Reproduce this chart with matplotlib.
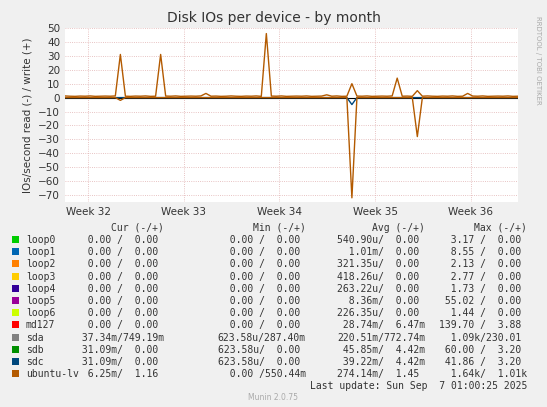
import matplotlib
matplotlib.use('Agg')
import matplotlib.pyplot as plt
import numpy as np

# ubuntu-lv write (+) values, sampled across the month
write = [1.2, 1.0, 0.9, 1.1, 1.0, 1.2, 0.9, 1.0, 1.1, 1.0, 1.2, 31, 1.0, 0.9, 1.1, 1.0, 1.2, 0.9, 1.0, 31,
         1.1, 1.0, 1.2, 0.9, 1.0, 1.1, 1.0, 1.2, 3.0, 1.0, 1.1, 0.9, 1.0, 1.2, 1.0, 0.9, 1.1, 1.0, 1.2, 0.9,
         46, 1.1, 1.0, 1.2, 0.9, 1.0, 1.1, 1.0, 1.2, 0.9, 1.0, 1.1, 2.0, 1.0, 1.2, 0.9, 1.0, 10,
         1.1, 1.0, 1.2, 0.9, 1.0, 1.1, 1.0, 1.2, 14, 1.0, 1.1, 0.9, 5,
         1.0, 1.2, 1.0, 0.9, 1.1, 1.0, 1.2, 0.9, 1.0, 3.0, 1.1, 1.0, 1.2, 0.9, 1.0, 1.1, 1.0, 1.2, 0.9, 1.0]
read_idx = [11, 57, 70]
read_val = [-2, -72, -28]
sdc_read_idx = [57]
sdc_read_val = [-5]

weeks = ['Week 32', 'Week 33', 'Week 34', 'Week 35', 'Week 36']

names = ['loop0', 'loop1', 'loop2', 'loop3', 'loop4', 'loop5', 'loop6', 'md127', 'sda', 'sdb', 'sdc', 'ubuntu-lv']
colors = ['#00cc00', '#0066b3', '#ff8000', '#ffcc00', '#330099', '#990099', '#ccff00', '#ff0000',
          '#808080', '#008f00', '#00487d', '#b35a00']
cur = [('0.00 ', '0.00 ')] * 8 + [('37.34m', '749.19m'), ('31.09m', '0.00 '), ('31.09m', '0.00 '), ('6.25m', '1.16 ')]
mins = [('0.00 ', '0.00 ')] * 8 + [('623.58u', '287.40m'), ('623.58u', '0.00 '), ('623.58u', '0.00 '), ('0.00 ', '550.44m')]
avgs = [('540.90u', '0.00 '), ('1.01m', '0.00 '), ('321.35u', '0.00 '), ('418.26u', '0.00 '), ('263.22u', '0.00 '),
        ('8.36m', '0.00 '), ('226.35u', '0.00 '), ('28.74m', '6.47m'), ('220.51m', '772.74m'), ('45.85m', '4.42m'),
        ('39.22m', '4.42m'), ('274.14m', '1.45 ')]
maxs = [('3.17 ', '0.00 '), ('8.55 ', '0.00 '), ('2.13 ', '0.00 '), ('2.77 ', '0.00 '), ('1.73 ', '0.00 '),
        ('55.02 ', '0.00 '), ('1.44 ', '0.00 '), ('139.70 ', '3.88 '), ('1.09k', '230.01 '), ('60.00 ', '3.20 '),
        ('41.86 ', '3.20 '), ('1.64k', '1.01k')]

W, H = 547, 407
fig = plt.figure(figsize=(W / 100, H / 100), dpi=100, facecolor='#f0f0f0')
ax = fig.add_axes([65 / W, 1 - 202 / H, 453 / W, 174 / H], facecolor='white')

x = np.arange(len(write))
read = np.zeros(len(write))
read[read_idx] = read_val
sdc = np.zeros(len(write))
sdc[sdc_read_idx] = sdc_read_val

ax.axhline(0, color='black', lw=0.8)
ax.plot(x, sdc, color='#00487d', lw=1)
ax.plot(x, read, color='#b35a00', lw=1)
ax.plot(x, write, color='#b35a00', lw=1)

ax.set_xlim(0, len(write) - 1)
ax.set_ylim(-75, 50)
ax.set_yticks(np.arange(-70, 51, 10))
ax.set_xticks(4.6 + 19 * np.arange(len(weeks)))
ax.set_xticklabels(weeks)
ax.tick_params(labelsize=7.5, colors='#333333', length=0)
ax.grid(True, color='#e0b0b0', ls=':', lw=0.6)
for s in ax.spines.values():
    s.set_visible(False)
ax.set_ylabel('IOs/second read (-) / write (+)', fontsize=7.5, color='#333333')

fig.text(0.5, 1 - 18 / H, 'Disk IOs per device - by month', ha='center', va='center', fontsize=10, color='#333333')
fig.text(538 / W, 1 - 60 / H, 'RRDTOOL / TOBI OETIKER', rotation=270, ha='center', va='center', fontsize=5, color='#aaaaaa')
fig.text(0.5, 1 - 398 / H, 'Munin 2.0.75', ha='center', va='center', fontsize=5.5, color='#aaaaaa')

mono = 'DejaVu Sans Mono'
col_right = [164, 306, 425, 527]
headers = ['Cur (-/+)', 'Min (-/+)', 'Avg (-/+)', 'Max (-/+)']
for cx, hd in zip(col_right, headers):
    fig.text(cx / W, 1 - 228 / H, hd, ha='right', va='center', fontsize=7, family=mono, color='#333333')

for i, name in enumerate(names):
    y = 1 - (240 + i * 12.2) / H
    fig.patches.append(plt.Rectangle((12 / W, y - 3 / H), 7 / W, 7 / H, transform=fig.transFigure,
                                     facecolor=colors[i], edgecolor='none'))
    fig.text(26 / W, y, name, ha='left', va='center', fontsize=7, family=mono, color='#333333')
    for cx, col in zip(col_right, [cur, mins, avgs, maxs]):
        r, w = col[i]
        fig.text(cx / W, y, f'{r:>7}/{w:>7}', ha='right', va='center', fontsize=7, family=mono, color='#333333')

fig.text(527 / W, 1 - 386 / H, 'Last update: Sun Sep  7 01:00:25 2025', ha='right', va='center',
         fontsize=7, family=mono, color='#333333')

fig.savefig('out.png', dpi=100, facecolor=fig.get_facecolor())
